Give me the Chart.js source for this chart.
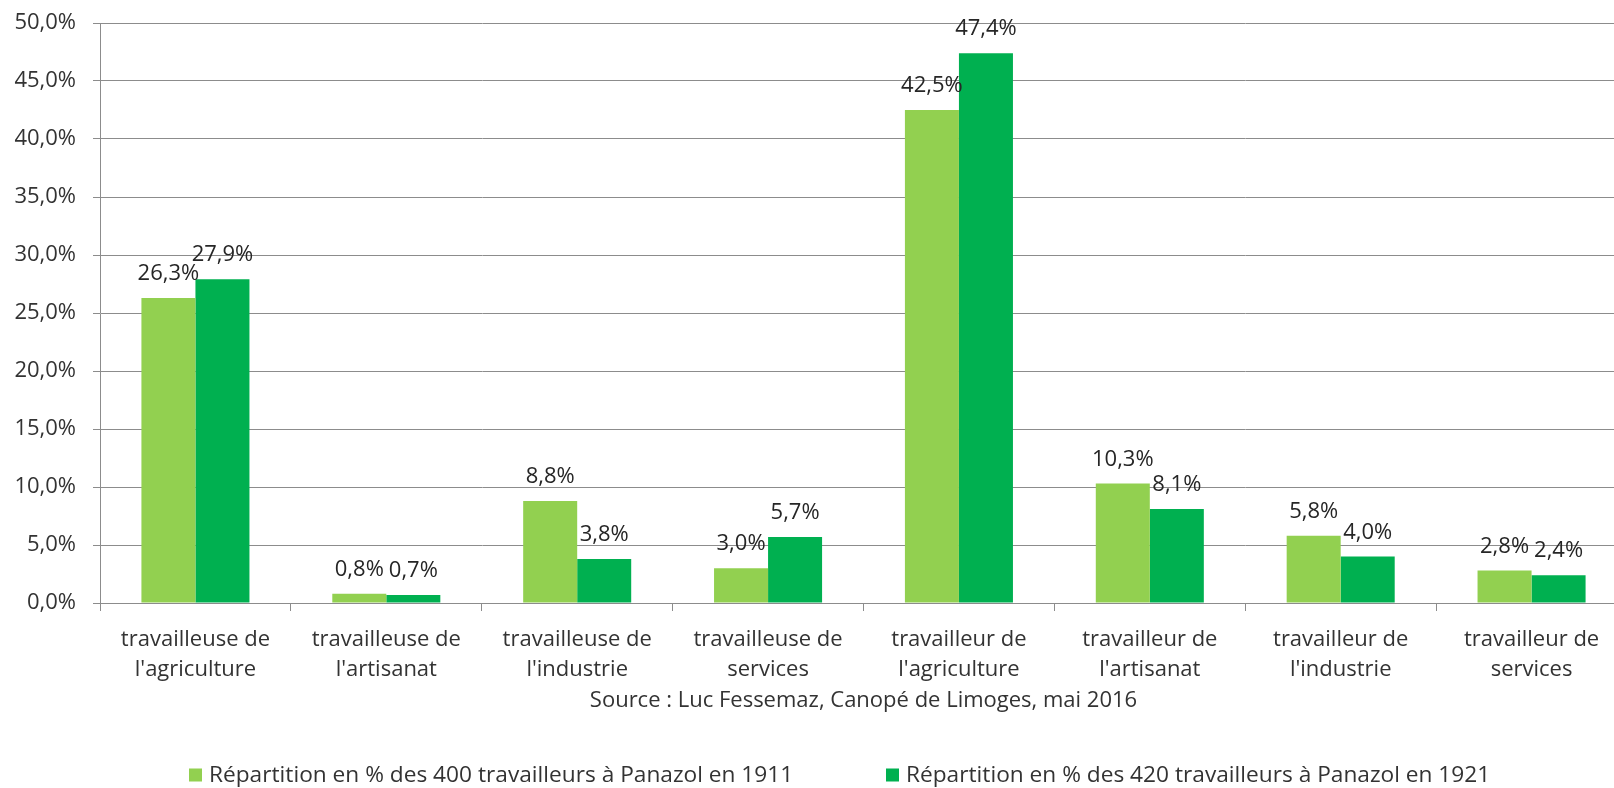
<!DOCTYPE html>
<html>
<head>
<meta charset="utf-8">
<script src="https://cdn.jsdelivr.net/npm/chart.js@4/dist/chart.umd.min.js"></script>
<style>
  html, body { margin: 0; padding: 0; background: #ffffff; overflow: hidden; }
  #wrap { width: 1640px; height: 788px; }
</style>
</head>
<body>
<div id="wrap"><canvas id="c" width="1640" height="788"></canvas></div>
<script>
const categories = [
  ["travailleuse de", "l'agriculture"],
  ["travailleuse de", "l'artisanat"],
  ["travailleuse de", "l'industrie"],
  ["travailleuse de", "services"],
  ["travailleur de", "l'agriculture"],
  ["travailleur de", "l'artisanat"],
  ["travailleur de", "l'industrie"],
  ["travailleur de", "services"]
];
const series1911 = [26.3, 0.8, 8.8, 3.0, 42.5, 10.3, 5.8, 2.8];
const series1921 = [27.9, 0.7, 3.8, 5.7, 47.4, 8.1, 4.0, 2.4];
const seriesNames = [
  "Répartition en % des 400 travailleurs à Panazol en 1911",
  "Répartition en % des 420 travailleurs à Panazol en 1921"
];
const axisTitle = "Source : Luc Fessemaz, Canopé de Limoges, mai 2016";
const yMin = 0, yMax = 50, yStep = 5;

const FONT = "'Open Sans', Lato, sans-serif";
const FS = 22;
const TEXT = "#333333";
const LABEL = "#262626";
const GRID = "#8c8c8c";
const fmt = v => v.toFixed(1).replace('.', ',') + '%';

const dataLabels = {
  id: 'dataLabels',
  afterDatasetsDraw(chart) {
    const ctx = chart.ctx;
    ctx.save();
    ctx.font = FS + "px " + FONT;
    ctx.fillStyle = LABEL;
    ctx.textAlign = 'center';
    ctx.textBaseline = 'alphabetic';
    chart.data.datasets.forEach((ds, di) => {
      chart.getDatasetMeta(di).data.forEach((bar, i) => {
        ctx.fillText(fmt(ds.data[i]), bar.x, bar.y - 18);
      });
    });
    ctx.restore();
  }
};

const customLegend = {
  id: 'customLegend',
  afterDraw(chart) {
    const ctx = chart.ctx;
    const xs = [189, 886];
    const yc = 775;
    ctx.save();
    ctx.font = "22.7px " + FONT;
    ctx.textBaseline = 'middle';
    ctx.textAlign = 'left';
    chart.data.datasets.forEach((ds, i) => {
      ctx.fillStyle = ds.backgroundColor;
      ctx.fillRect(xs[i], yc - 6.5, 13, 13);
      ctx.fillStyle = TEXT;
      ctx.fillText(ds.label, xs[i] + 20, yc + 1);
    });
    ctx.restore();
  }
};

new Chart(document.getElementById('c'), {
  type: 'bar',
  data: {
    labels: categories,
    datasets: [
      { label: seriesNames[0], data: series1911, backgroundColor: '#92D050',
        categoryPercentage: 0.566, barPercentage: 1.0 },
      { label: seriesNames[1], data: series1921, backgroundColor: '#00B050',
        categoryPercentage: 0.566, barPercentage: 1.0 }
    ]
  },
  options: {
    responsive: false,
    animation: false,
    devicePixelRatio: 1,
    layout: { padding: { left: 14, right: 13, top: 23, bottom: 74 } },
    plugins: {
      legend: { display: false },
      tooltip: { enabled: false },
      title: { display: false }
    },
    scales: {
      x: {
        afterFit(scale) { scale.height = 111; },
        grid: { display: true, drawOnChartArea: false, drawTicks: true, tickLength: 8, color: GRID, offset: true },
        border: { display: true, color: GRID, width: 1 },
        ticks: { color: TEXT, font: { family: FONT, size: FS, lineHeight: 1.36 }, padding: 14, maxRotation: 0, autoSkip: false },
        title: { display: true, text: axisTitle, color: TEXT, font: { family: FONT, size: FS, lineHeight: 1.2 }, padding: { top: 0, bottom: 0 } }
      },
      y: {
        min: yMin, max: yMax,
        afterFit(scale) { scale.width = 86; scale.paddingTop = 0; scale.paddingBottom = 0; },
        grid: { color: GRID, tickLength: 7, drawTicks: true },
        border: { display: true, color: GRID, width: 1 },
        ticks: { stepSize: yStep, color: TEXT, font: { family: FONT, size: FS }, padding: 17, callback: v => fmt(v) }
      }
    }
  },
  plugins: [dataLabels, customLegend]
});
</script>
</body>
</html>
